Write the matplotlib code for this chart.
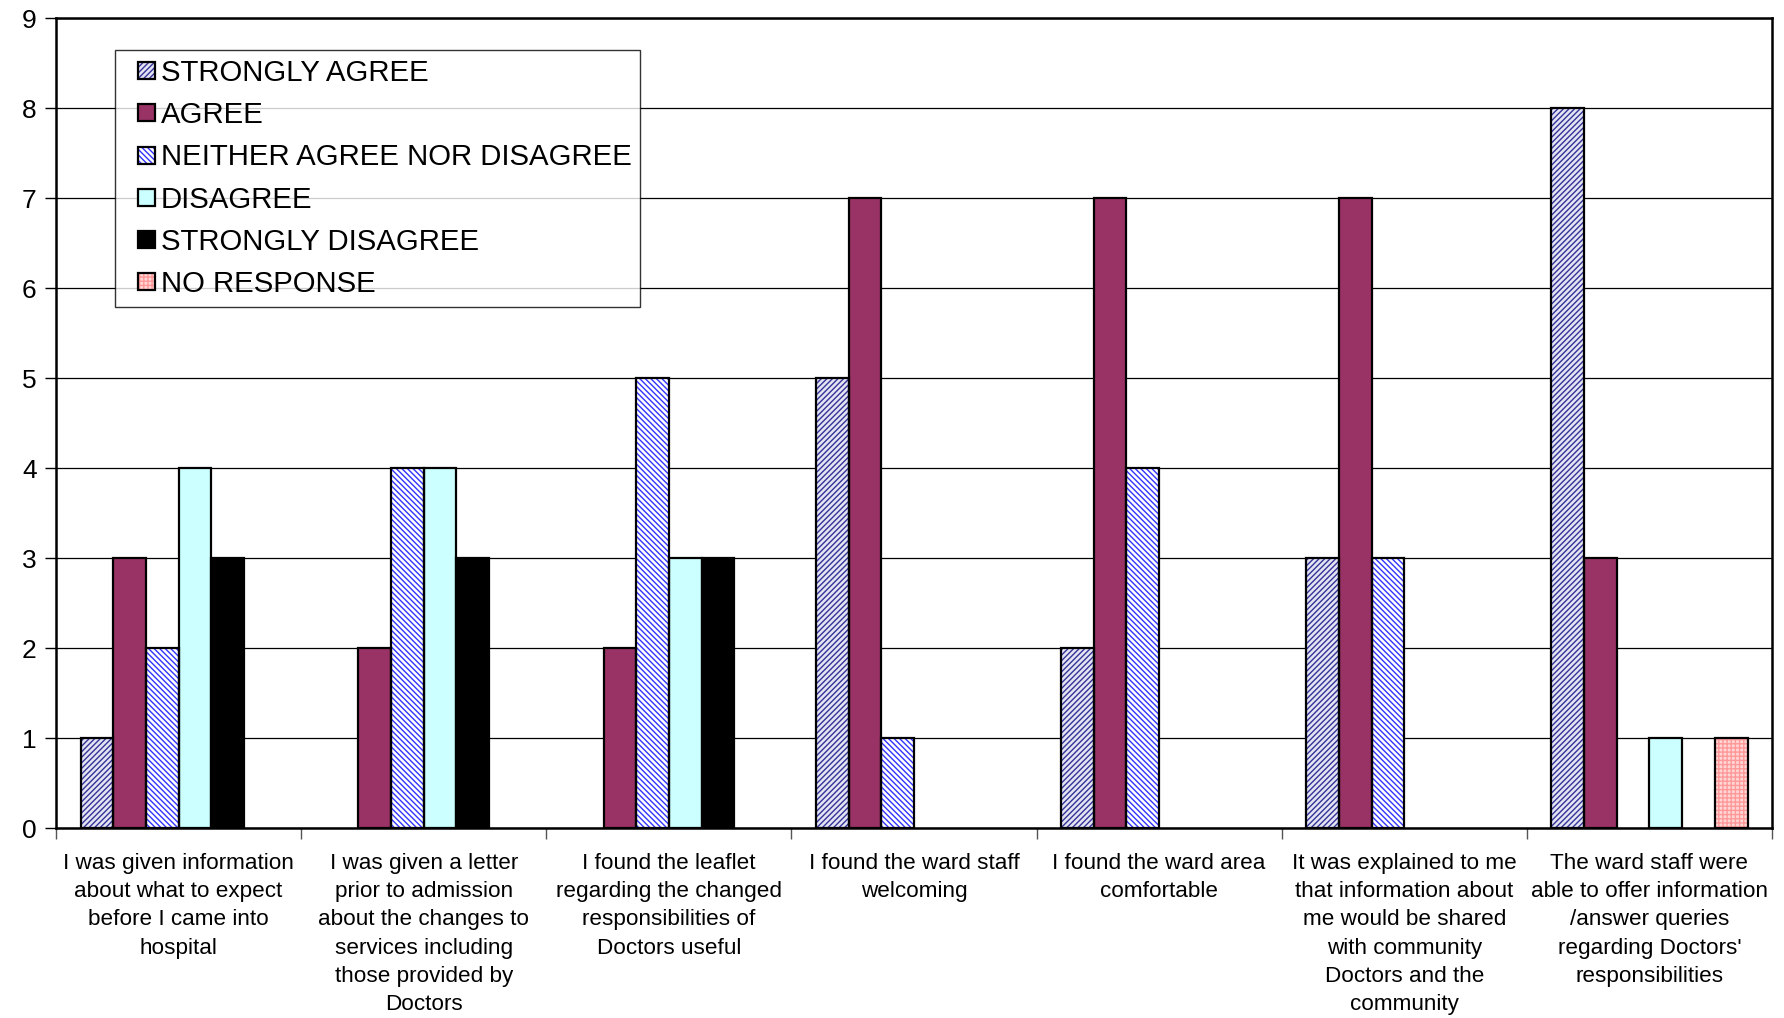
import numpy as np
import matplotlib
matplotlib.use("Agg")
import matplotlib.pyplot as plt
from matplotlib.patches import Patch, Rectangle
from matplotlib.legend_handler import HandlerPatch

plt.rcParams['font.family'] = ['Liberation Sans', 'DejaVu Sans']
plt.rcParams['hatch.linewidth'] = 1.0

questions = [
    "I was given information\nabout what to expect\nbefore I came into\nhospital",
    "I was given a letter\nprior to admission\nabout the changes to\nservices including\nthose provided by\nDoctors",
    "I found the leaflet\nregarding the changed\nresponsibilities of\nDoctors useful",
    "I found the ward staff\nwelcoming",
    "I found the ward area\ncomfortable",
    "It was explained to me\nthat information about\nme would be shared\nwith community\nDoctors and the\ncommunity",
    "The ward staff were\nable to offer information\n/answer queries\nregarding Doctors'\nresponsibilities",
]

responses = ["STRONGLY AGREE", "AGREE", "NEITHER AGREE NOR DISAGREE",
             "DISAGREE", "STRONGLY DISAGREE", "NO RESPONSE"]

strongly_agree = [1, 0, 0, 5, 2, 3, 8]
agree = [3, 2, 2, 7, 7, 7, 3]
neither = [2, 4, 5, 1, 4, 3, 0]
disagree = [4, 4, 3, 0, 0, 0, 1]
strongly_disagree = [3, 3, 3, 0, 0, 0, 0]
no_response = [0, 0, 0, 0, 0, 0, 1]

series = [strongly_agree, agree, neither, disagree, strongly_disagree, no_response]

# face colour, hatch colour, hatch pattern
styles = [
    ("#e4e4f2", "#333399", "//////"),
    ("#993366", "#993366", ""),
    ("#ffffff", "#3333ff", "\\\\\\\\\\\\"),
    ("#ccffff", "#ccffff", ""),
    ("#000000", "#000000", ""),
    ("#ffd6d6", "#ff9999", "++++"),
]


def square_key(legend, orig_handle, xdescent, ydescent, width, height, fontsize):
    # small square pushed to the right end of the handle slot
    size = 0.58 * fontsize
    return Rectangle((-xdescent + width - size, -ydescent + (height - size) / 2),
                     size, size)


fig = plt.figure(figsize=(17.84, 10.18), dpi=100)
ax = fig.add_axes([0.0314, 0.1866, 0.9619, 0.7954])

x = np.arange(len(questions))
width = 1 / 7.5
handles = []
for i, (vals, (fc, hc, hatch)) in enumerate(zip(series, styles)):
    pos = x + (i - 2.5) * width
    vals = np.array(vals, dtype=float)
    mask = vals > 0
    ax.bar(pos[mask], vals[mask], width, facecolor=fc, edgecolor=hc,
           hatch=hatch, linewidth=0, zorder=2)
    ax.bar(pos[mask], vals[mask], width, facecolor="none",
           edgecolor="black", linewidth=1.6, zorder=3)
    h1 = Patch(facecolor=fc, edgecolor=hc, hatch=hatch, linewidth=0)
    h2 = Patch(facecolor="none", edgecolor="black", linewidth=1.6)
    handles.append((h1, h2))

ax.set_xlim(-0.5, len(questions) - 0.5)
ax.set_ylim(0, 9)
ax.set_yticks(range(0, 10))
ax.yaxis.grid(True, color="black", linewidth=0.9, zorder=0)
ax.set_axisbelow(True)

ax.set_xticks(x)
ax.set_xticklabels(questions, fontsize=16.2, linespacing=1.45)
ax.set_xticks(np.arange(-0.5, len(questions)), minor=True)
ax.tick_params(axis="x", which="major", length=0, pad=18)
ax.tick_params(axis="x", which="minor", length=8, width=1, color="#555555")
ax.tick_params(axis="y", labelsize=19, length=8, width=1, pad=6)

for s in ax.spines.values():
    s.set_color("black")
    s.set_linewidth(1.8)

leg = ax.legend(handles, responses, loc="upper left",
                bbox_to_anchor=(0.0344, 0.9605), borderaxespad=0,
                fontsize=21.2, fancybox=False, frameon=True,
                handler_map={Patch: HandlerPatch(patch_func=square_key)},
                handlelength=1.05, handleheight=0.65, handletextpad=0.2,
                labelspacing=0.48, borderpad=0.3)
leg.get_frame().set_edgecolor("black")
leg.get_frame().set_linewidth(1.0)

fig.savefig("out.png", dpi=100)
